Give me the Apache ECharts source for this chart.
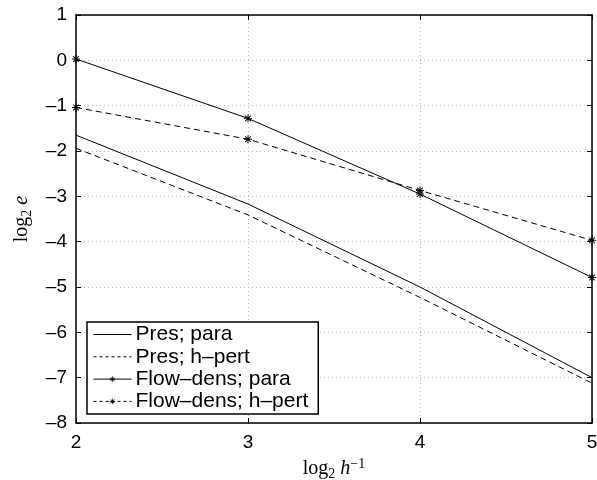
<!DOCTYPE html>
<html><head><meta charset="utf-8">
<script src="https://cdn.jsdelivr.net/npm/echarts@6/dist/echarts.min.js"></script>
<style>html,body{margin:0;padding:0;background:#fff}#c{width:597px;height:480px}</style>
</head><body><div id="c"></div>
<script>
const xValues = [2, 3, 4, 5];
const presPara = [-1.65, -3.17, -5.0, -7.0];
const presHpert = [-1.94, -3.41, -5.23, -7.12];
const flowPara = [0.03, -1.28, -2.95, -4.79];
const flowHpert = [-1.04, -1.74, -2.87, -3.97];
const seriesNames = ['Pres; para', 'Pres; h\u2013pert', 'Flow\u2013dens; para', 'Flow\u2013dens; h\u2013pert'];
const xTicks = [2, 3, 4, 5];
const yTicks = [-8, -7, -6, -5, -4, -3, -2, -1, 0, 1];

const star = 'path://M-0.12,-1 L0.12,-1 L0.12,1 L-0.12,1 Z M-1,-0.12 L1,-0.12 L1,0.12 L-1,0.12 Z M-0.79,-0.62 L-0.62,-0.79 L0.79,0.62 L0.62,0.79 Z M0.62,-0.79 L0.79,-0.62 L-0.62,0.79 L-0.79,0.62 Z';
const font = 'Liberation Sans';
function pts(arr){ return xValues.map((x,i)=>[x, arr[i]]); }
function mk(name, data, dashed, marker){
  return {
    name, type:'line', data: pts(data),
    lineStyle:{color:'#000', width:1, type: dashed ? [6,4] : 'solid'},
    itemStyle:{color:'#000'},
    symbol: marker ? star : 'none', symbolSize: 8, showSymbol: marker,
    animation:false, z: marker ? 3 : 2
  };
}
const chart = echarts.init(document.getElementById('c'));
const axisCommon = {
  axisLine:{show:true, onZero:false, lineStyle:{color:'#000', width:1.5}},
  axisTick:{show:true, inside:true, length:5, lineStyle:{color:'#000'}},
};
const legendData = seriesNames.map((n, i) => ({
  name: n,
  itemStyle: i < 2 ? {opacity: 0} : {color:'#000'},
  lineStyle: {width: 1, color:'#000', type: (i % 2 === 1) ? [3,3] : 'solid'}
}));
const serif = 'Liberation Serif';
chart.setOption({
  animation:false,
  backgroundColor:'#fff',
  grid:{left:76, right:5, top:15, bottom:57, containLabel:false, outerBoundsMode:'none'},
  legend:{
    orient:'vertical', left:87, top:322, data: legendData,
    itemWidth:38, itemHeight:7, itemGap:1.3,
    padding:[2,10,2,6],
    borderColor:'#000', borderWidth:1.5, backgroundColor:'#fff',
    textStyle:{fontFamily:font, fontSize:21, color:'#000', padding:[0,0,0,-1], lineHeight:21},
    z: 10
  },
  xAxis:[
    Object.assign({type:'value', min:2, max:5, interval:1, position:'bottom',
      axisLabel:{fontFamily:font, fontSize:19, color:'#000', margin:10},
      splitLine:{show:true, lineStyle:{color:'#bbb', type:[1,3], width:1}},
      name:'{a|log}{s|2}{a| }{i|h}{u|\u22121}', nameLocation:'middle', nameGap:27,
      nameTextStyle:{rich:{
        a:{fontFamily:serif, fontSize:20, color:'#000'},
        s:{fontFamily:serif, fontSize:14, color:'#000', verticalAlign:'bottom', padding:[10,0,0,0]},
        i:{fontFamily:serif, fontStyle:'italic', fontSize:20, color:'#000'},
        u:{fontFamily:serif, fontSize:14, color:'#000', verticalAlign:'top', padding:[0,0,10,0]}
      }}
    }, axisCommon),
    Object.assign({type:'value', min:2, max:5, interval:1, position:'top',
      axisLabel:{show:false}, splitLine:{show:false}}, axisCommon)
  ],
  yAxis:[
    Object.assign({type:'value', min:-8, max:1, interval:1, position:'left',
      axisLabel:{fontFamily:font, fontSize:19, color:'#000', margin:9,
        formatter: v => (v < 0 ? '\u2013' + Math.abs(v) : String(v))},
      splitLine:{show:true, lineStyle:{color:'#bbb', type:[1,3], width:1}},
      name:'{a|log}{s|2}{a| }{i|e}', nameLocation:'middle', nameGap:42, nameRotate:90,
      nameTextStyle:{rich:{
        a:{fontFamily:serif, fontSize:20, color:'#000'},
        s:{fontFamily:serif, fontSize:14, color:'#000', verticalAlign:'bottom', padding:[10,0,0,0]},
        i:{fontFamily:serif, fontStyle:'italic', fontSize:20, color:'#000'}
      }}
    }, axisCommon),
    Object.assign({type:'value', min:-8, max:1, interval:1, position:'right',
      axisLabel:{show:false}, splitLine:{show:false}}, axisCommon)
  ],
  series:[
    mk(seriesNames[0], presPara, false, false),
    mk(seriesNames[1], presHpert, true, false),
    mk(seriesNames[2], flowPara, false, true),
    mk(seriesNames[3], flowHpert, true, true)
  ]
});
</script></body></html>
